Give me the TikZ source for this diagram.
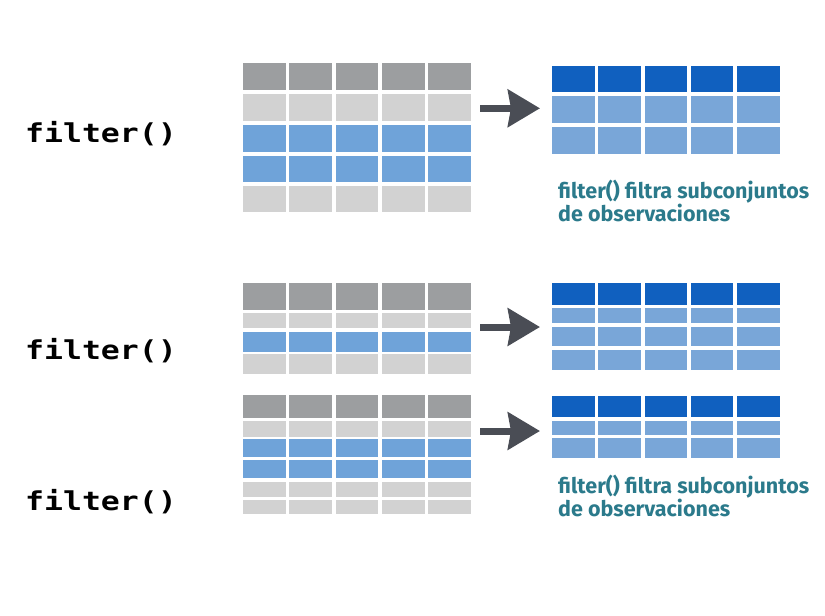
\documentclass[tikz,border=0pt]{standalone}
\usepackage{fontspec}
\usepackage{tikz}
\usetikzlibrary{arrows.meta}
\usepackage{xcolor}

\newfontfamily\codefont{DejaVu Sans Mono}
\newfontfamily\capfont{Fira Sans}

\definecolor{headgray}{HTML}{9C9EA0}
\definecolor{rowgray}{HTML}{D2D2D2}
\definecolor{rowblue}{HTML}{6FA3D9}
\definecolor{headblue}{HTML}{1060BF}
\definecolor{keptblue}{HTML}{79A6D8}
\definecolor{arrowgray}{HTML}{4A4D55}
\definecolor{captiontext}{HTML}{2B7A8B}

% one row list per table: top/height/colour, five cells per row
\newcommand{\tablerows}[3]{%
  \foreach \ytop/\h/\col in {#3} {
    \foreach \c in {0,...,4} {
      \fill[\col] (#1+\c*46.3, \ytop) rectangle ++(#2, \h);
    }
  }%
}

\begin{document}
\begin{tikzpicture}[
    x=1pt, y=-1pt,
    funlabel/.style={font=\codefont\bfseries\fontsize{26}{30}\selectfont, anchor=base west,
      inner sep=0pt, xscale=1.21, transform shape},
    caption/.style={font=\capfont\bfseries\fontsize{21.5}{23.4}\selectfont, text=captiontext,
      align=left, anchor=base west, inner sep=0pt},
    flowarrow/.style={line width=7pt, draw=arrowgray,
      -{Stealth[length=32pt 0, width=37pt 0, inset=3pt]}},
  ]
  \useasboundingbox (0,0) rectangle (825,616);

  % ========= TOP: filter() =========
  \node[funlabel] (fun1) at (25,142.3) {filter()};

  \tablerows{243}{42.7}{63/27/headgray, 94.3/26.5/rowgray, 125/26.7/rowblue,
    155.7/26.7/rowblue, 186/25.7/rowgray}
  \tablerows{552}{42.5}{65.7/26.6/headblue, 95.7/27.6/keptblue, 126.7/27.3/keptblue}

  \coordinate (from1) at (480,108.3);
  \coordinate (to1) at (540,108.3);
  \draw[flowarrow] (from1) -- (to1);

  % base of the last line
  \node[caption] (cap1) at (558,221.7) {filter() filtra subconjuntos\\de observaciones};

  % ========= MIDDLE =========
  \node[funlabel] (fun2) at (25,359.3) {filter()};

  \tablerows{243}{42.7}{283.3/26.7/headgray, 313.3/15/rowgray, 331.7/20/rowblue,
    354.3/20/rowgray}
  \tablerows{552}{42.5}{283.3/21.7/headblue, 308.3/14.4/keptblue, 326.7/19.3/keptblue,
    350/20/keptblue}

  \coordinate (from2) at (480,327);
  \coordinate (to2) at (540,327);
  \draw[flowarrow] (from2) -- (to2);

  % ========= BOTTOM =========
  \node[funlabel] (fun3) at (25,510) {filter()};

  \tablerows{243}{42.7}{395/23.3/headgray, 421/15.7/rowgray, 439.3/18/rowblue,
    460.3/18/rowblue, 481.7/15/rowgray, 500/14.3/rowgray}
  \tablerows{552}{42.5}{395.7/21/headblue, 420.7/14.3/keptblue, 438.3/20/keptblue}

  \coordinate (from3) at (480,431);
  \coordinate (to3) at (540,431);
  \draw[flowarrow] (from3) -- (to3);

  \node[caption] (cap2) at (558,516.7) {filter() filtra subconjuntos\\de observaciones};
\end{tikzpicture}
\end{document}
